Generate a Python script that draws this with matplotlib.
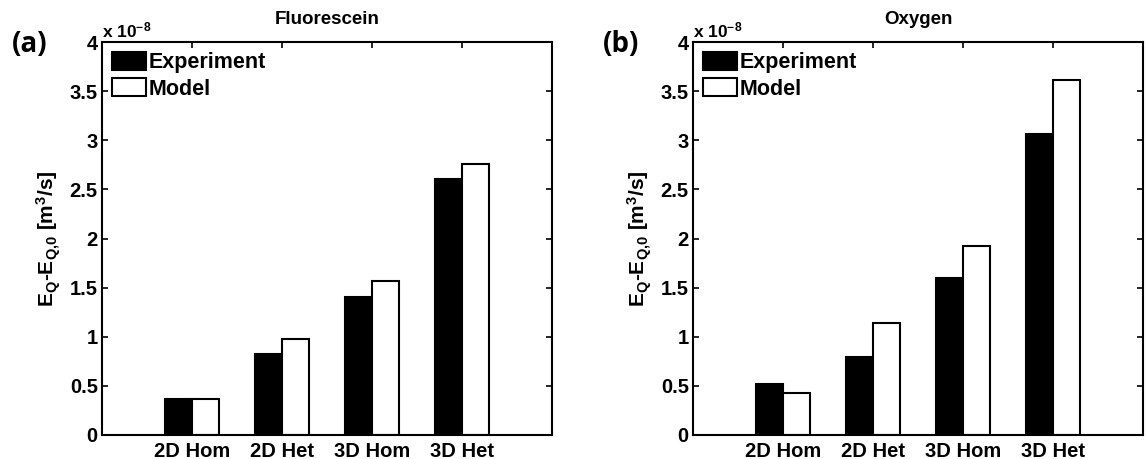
import numpy as np
import matplotlib
matplotlib.use('Agg')
import matplotlib.pyplot as plt

plt.rcParams['font.family'] = ['Liberation Sans', 'DejaVu Sans']
plt.rcParams['font.weight'] = 'bold'
plt.rcParams['mathtext.fontset'] = 'custom'
plt.rcParams['mathtext.rm'] = 'Liberation Sans:bold'
plt.rcParams['mathtext.it'] = 'Liberation Sans:bold'
plt.rcParams['mathtext.bf'] = 'Liberation Sans:bold'
plt.rcParams['mathtext.default'] = 'rm'

# Data (in units of 1e-8 m^3/s)
categories = ['2D Hom', '2D Het', '3D Hom', '3D Het']
fluor_exp = [0.365, 0.82, 1.40, 2.61]
fluor_model = [0.37, 0.98, 1.57, 2.76]
oxy_exp = [0.52, 0.79, 1.60, 3.06]
oxy_model = [0.425, 1.14, 1.92, 3.61]

panels = [
    ('(a)', 'Fluorescein', fluor_exp, fluor_model),
    ('(b)', 'Oxygen', oxy_exp, oxy_model),
]

W, H = 1146, 459
fig = plt.figure(figsize=(W / 100, H / 100), dpi=100)

# axes boxes in pixels: left, bottom(from top), width, height
boxes = [(102, 435, 450, 393), (693, 435, 450, 393)]

x = np.arange(1, len(categories) + 1)
bw = 0.3

for (tag, title, exp_vals, mod_vals), (l, b, w, h) in zip(panels, boxes):
    ax = fig.add_axes([l / W, (H - b) / H, w / W, h / H])
    ax.bar(x - bw / 2, exp_vals, bw, color='black', edgecolor='black',
           linewidth=1.5, label='Experiment')
    ax.bar(x + bw / 2, mod_vals, bw, color='white', edgecolor='black',
           linewidth=1.5, label='Model')
    ax.set_xlim(0, 5)
    ax.set_ylim(0, 4)
    ax.set_xticks(x)
    ax.set_xticklabels(categories, fontsize=14.5, fontweight='bold')
    yt = np.arange(0, 4.01, 0.5)
    ax.set_yticks(yt)
    ax.set_yticklabels(['%g' % v for v in yt], fontsize=14.5, fontweight='bold')
    ax.tick_params(direction='in', top=True, right=True, length=4, width=1.2, pad=3)
    ax.tick_params(axis='x', pad=5)
    for s in ax.spines.values():
        s.set_linewidth(1.5)
    ax.set_title(title, fontsize=13.5, fontweight='bold', pad=13)
    ax.set_ylabel(r'E$_{Q}$-E$_{Q{,}0}$ [m$^{3}$/s]', fontsize=15,
                  fontweight='bold', labelpad=5)
    ax.text(0.0, 1.005, r'x 10$^{-8}$', transform=ax.transAxes,
            fontsize=12.5, fontweight='bold', ha='left', va='bottom')
    ax.legend(loc='upper left', frameon=False, prop={'size': 15.5, 'weight': 'bold'},
              handlelength=1.6, handleheight=0.9, handletextpad=0.1,
              labelspacing=0.25, borderaxespad=0.3, borderpad=0.15)
    fig.text((l - 72) / W, (H - 45) / H, tag, fontsize=20, fontweight='bold',
             family=['Open Sans', 'DejaVu Sans'], ha='center', va='center')

fig.savefig('out.png', dpi=100)
